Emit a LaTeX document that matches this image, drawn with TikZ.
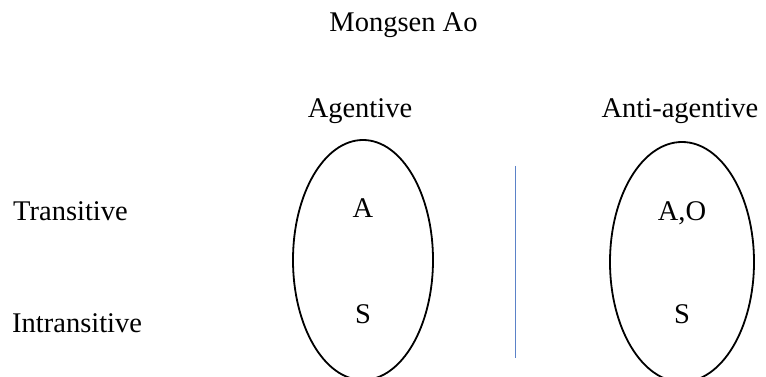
\documentclass[tikz,border=0pt]{standalone}
\usepackage{fontspec}
\setmainfont{Liberation Serif}
\usetikzlibrary{shapes.geometric}
\definecolor{divblue}{HTML}{5B82C8}
\begin{document}
\begin{tikzpicture}[x=1pt,y=-1pt,
  lbl/.style={inner sep=0pt, font=\fontsize{28.5}{34}\selectfont},
  oval/.style={ellipse, draw=black, line width=1.8pt, inner sep=0pt},
  divider/.style={draw=divblue, line width=0.8pt}]
\clip (0,0) rectangle (766,377);
\fill[white] (0,0) rectangle (766,377);
% title and column heads
\node[lbl, anchor=base] (title) at (403.5,32) {Mongsen Ao};
\node[lbl, anchor=base] (agh) at (360,118) {Agentive};
\node[lbl, anchor=base] (anth) at (680,118) {Anti-agentive};
% row heads
\node[lbl, anchor=base west] (tr) at (13,220) {Transitive};
\node[lbl, anchor=base west] (intr) at (12,332) {Intransitive};
% ellipses
\node[oval, minimum width=140pt, minimum height=240pt] (lov) at (363,260) {};
\node[oval, minimum width=144pt, minimum height=240pt] (rov) at (682,262) {};
% contents
\node[lbl, anchor=base] (la) at (363,218) {A};
\node[lbl, anchor=base] (ls) at (363,323) {S};
\node[lbl, anchor=base] (rao) at (682,220) {A,O};
\node[lbl, anchor=base] (rs) at (682,323) {S};
% divider
\coordinate (dtop) at (515,166);
\coordinate (dbot) at (515,358);
\draw[divider] (dtop) -- (dbot);
\end{tikzpicture}
\end{document}
